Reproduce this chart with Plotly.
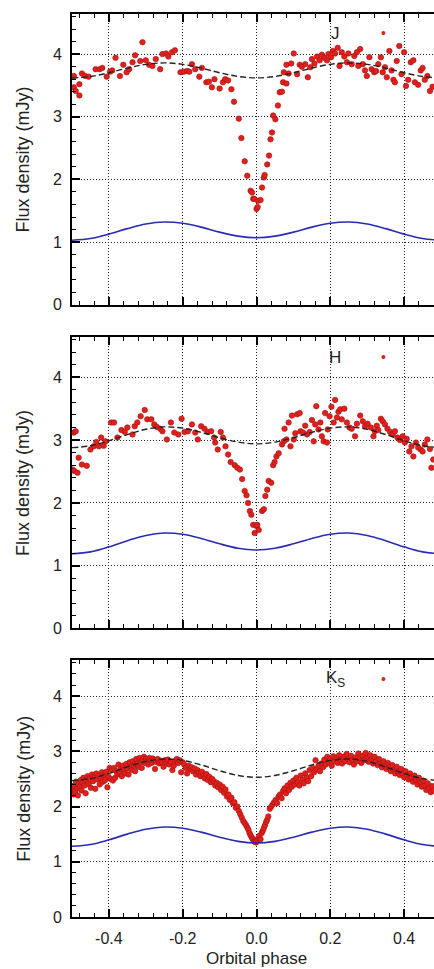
import plotly.graph_objects as go

# ---------------- data ----------------
x_tickvals = [-0.4, -0.2, 0.0, 0.2, 0.4]
x_ticktext = ["-0.4", "-0.2", "0.0", "0.2", "0.4"]
y_tickvals = [0, 1, 2, 3, 4]
band_labels = ["J", "H", "K<sub>S</sub>"]

j_phase = [-0.495, -0.495, -0.49, -0.48, -0.48, -0.473, -0.464, -0.455, -0.436, -0.425,
           -0.418, -0.406, -0.397, -0.391, -0.382, -0.37, -0.361, -0.352, -0.345, -0.336,
           -0.329, -0.315, -0.309, -0.3, -0.291, -0.282, -0.273, -0.261, -0.255, -0.245,
           -0.239, -0.229, -0.221, -0.206, -0.197, -0.188, -0.182, -0.175, -0.166, -0.155,
           -0.148, -0.136, -0.129, -0.121, -0.114, -0.1, -0.091, -0.085, -0.077, -0.068,
           -0.061, -0.048, -0.041, -0.032, -0.025, -0.016, -0.012, -0.009, -0.006, 0.0,
           0.003, 0.004, 0.011, 0.015, 0.02, 0.022, 0.029, 0.034, 0.038, 0.042,
           0.045, 0.051, 0.058, 0.063, 0.069, 0.072, 0.074, 0.081, 0.081, 0.087,
           0.094, 0.101, 0.11, 0.117, 0.123, 0.132, 0.139, 0.146, 0.15, 0.157,
           0.164, 0.171, 0.177, 0.184, 0.191, 0.195, 0.202, 0.207, 0.213, 0.22,
           0.225, 0.231, 0.238, 0.245, 0.249, 0.258, 0.265, 0.272, 0.276, 0.281,
           0.288, 0.294, 0.299, 0.306, 0.312, 0.319, 0.324, 0.33, 0.337, 0.342,
           0.348, 0.353, 0.36, 0.366, 0.371, 0.375, 0.38, 0.387, 0.393, 0.4,
           0.405, 0.411, 0.418, 0.425, 0.429, 0.438, 0.445, 0.45, 0.456, 0.463,
           0.47, 0.477]
j_flux = [3.65, 3.47, 3.41, 3.34, 3.52, 3.69, 3.65, 3.64, 3.76, 3.76,
          3.78, 3.64, 3.72, 3.74, 3.94, 3.65, 3.83, 3.71, 3.76, 3.87,
          3.98, 3.89, 4.19, 3.90, 3.83, 3.81, 3.92, 3.76, 4.00, 4.01,
          3.96, 4.03, 4.06, 3.71, 3.72, 3.73, 3.72, 3.84, 3.76, 3.64,
          3.78, 3.55, 3.56, 3.47, 3.60, 3.45, 3.55, 3.60, 3.58, 3.44,
          3.24, 2.97, 2.66, 2.29, 2.06, 1.82, 1.79, 1.69, 1.69, 1.53,
          1.56, 1.66, 1.67, 1.87, 2.03, 2.07, 2.24, 2.38, 2.64, 2.75,
          3.02, 2.96, 3.18, 3.39, 3.40, 3.55, 3.71, 3.53, 3.83, 3.69,
          3.85, 4.01, 3.68, 3.83, 3.80, 3.84, 3.63, 3.79, 3.92, 3.85,
          3.96, 3.90, 3.99, 3.94, 3.90, 4.00, 3.95, 4.05, 4.01, 4.10,
          3.81, 4.03, 3.96, 3.87, 4.01, 3.84, 3.97, 4.03, 3.81, 4.08,
          3.84, 3.74, 3.65, 3.95, 3.76, 3.71, 3.73, 3.84, 3.95, 3.71,
          3.79, 3.63, 4.05, 3.74, 3.59, 3.55, 3.89, 4.13, 3.68, 4.03,
          3.49, 3.59, 3.87, 3.90, 3.55, 3.51, 3.74, 3.78, 3.59, 3.65,
          3.41, 3.48]

h_phase = [-0.495, -0.49, -0.499, -0.494, -0.485, -0.482, -0.473, -0.46, -0.45, -0.441,
           -0.434, -0.427, -0.421, -0.414, -0.409, -0.394, -0.386, -0.377, -0.366, -0.357,
           -0.35, -0.336, -0.33, -0.323, -0.314, -0.303, -0.296, -0.285, -0.277, -0.27,
           -0.261, -0.255, -0.243, -0.232, -0.223, -0.212, -0.203, -0.195, -0.186, -0.175,
           -0.166, -0.159, -0.15, -0.141, -0.132, -0.123, -0.115, -0.112, -0.105, -0.097,
           -0.091, -0.084, -0.077, -0.07, -0.059, -0.052, -0.045, -0.039, -0.032, -0.027,
           -0.023, -0.018, -0.014, -0.009, -0.005, 0.0, 0.002, 0.006, 0.015, 0.02,
           0.024, 0.029, 0.033, 0.04, 0.045, 0.049, 0.054, 0.06, 0.069, 0.074,
           0.076, 0.081, 0.087, 0.092, 0.096, 0.101, 0.105, 0.11, 0.117, 0.119,
           0.126, 0.132, 0.137, 0.144, 0.15, 0.155, 0.159, 0.162, 0.168, 0.173,
           0.177, 0.182, 0.186, 0.191, 0.193, 0.198, 0.203, 0.209, 0.213, 0.218,
           0.222, 0.227, 0.231, 0.238, 0.245, 0.252, 0.258, 0.267, 0.272, 0.281,
           0.288, 0.294, 0.301, 0.31, 0.317, 0.321, 0.326, 0.33, 0.337, 0.342,
           0.348, 0.355, 0.362, 0.369, 0.375, 0.382, 0.389, 0.396, 0.402, 0.407,
           0.414, 0.42, 0.425, 0.432, 0.438, 0.445, 0.45, 0.456, 0.463, 0.47,
           0.474, 0.479]
h_flux = [3.12, 3.14, 2.53, 2.51, 2.48, 2.72, 2.61, 2.59, 2.85, 2.90,
          2.97, 2.90, 3.04, 2.91, 2.98, 3.28, 3.28, 3.04, 3.16, 3.13,
          3.20, 3.09, 3.22, 3.28, 3.38, 3.48, 3.33, 3.33, 3.25, 3.21,
          3.18, 3.14, 3.01, 3.28, 3.12, 3.09, 3.34, 3.13, 3.14, 3.25,
          3.12, 3.01, 3.22, 3.18, 3.13, 3.14, 3.04, 2.96, 2.85, 3.13,
          3.04, 2.90, 2.77, 2.65, 2.60, 2.56, 2.53, 2.38, 2.19, 2.12,
          2.00, 1.87, 1.81, 1.65, 1.52, 1.63, 1.65, 1.57, 1.87, 1.90,
          2.11, 2.21, 2.35, 2.32, 2.60, 2.65, 2.74, 2.79, 2.93, 2.98,
          3.18, 3.01, 3.28, 2.90, 3.39, 3.01, 3.11, 3.41, 3.43, 3.14,
          3.12, 3.23, 3.09, 3.13, 3.32, 2.98, 3.25, 3.54, 3.17, 3.28,
          3.06, 2.98, 3.43, 2.96, 3.17, 3.38, 3.53, 3.28, 3.64, 3.36,
          3.45, 3.49, 3.33, 3.50, 3.28, 3.20, 3.18, 3.06, 3.26, 3.39,
          3.30, 3.22, 3.26, 3.20, 3.06, 3.14, 3.23, 3.16, 3.34, 3.30,
          3.25, 3.18, 3.13, 3.09, 3.14, 3.04, 3.00, 3.06, 2.96, 3.02,
          2.82, 2.90, 2.74, 2.96, 2.88, 2.85, 2.82, 2.93, 3.01, 2.86,
          2.56, 2.69]

k_phase = [-0.498, -0.496, -0.494, -0.491, -0.489, -0.486, -0.484, -0.481, -0.479, -0.476,
           -0.474, -0.471, -0.469, -0.466, -0.463, -0.461, -0.458, -0.455, -0.452, -0.449,
           -0.446, -0.443, -0.440, -0.437, -0.434, -0.431, -0.428, -0.425, -0.422, -0.419,
           -0.416, -0.413, -0.410, -0.407, -0.404, -0.401, -0.398, -0.395, -0.392, -0.389,
           -0.386, -0.383, -0.380, -0.377, -0.374, -0.371, -0.368, -0.365, -0.362, -0.359,
           -0.356, -0.353, -0.350, -0.347, -0.344, -0.341, -0.338, -0.335, -0.332, -0.329,
           -0.326, -0.323, -0.320, -0.317, -0.314, -0.311, -0.308, -0.305, -0.302, -0.299,
           -0.296, -0.293, -0.290, -0.287, -0.284, -0.281, -0.278, -0.275, -0.272, -0.268,
           -0.264, -0.260, -0.256, -0.252, -0.248, -0.244, -0.240, -0.236, -0.232, -0.228,
           -0.224, -0.220, -0.216, -0.212, -0.208, -0.204, -0.200, -0.196, -0.192, -0.188,
           -0.184, -0.180, -0.176, -0.172, -0.168, -0.164, -0.160, -0.156, -0.152, -0.148,
           -0.144, -0.140, -0.136, -0.132, -0.128, -0.124, -0.120, -0.116, -0.112, -0.108,
           -0.104, -0.100, -0.096, -0.092, -0.088, -0.084, -0.080, -0.076, -0.072, -0.068,
           -0.064, -0.060, -0.056, -0.052, -0.048, -0.044, -0.040, -0.036, -0.032, -0.028,
           -0.025, -0.022, -0.019, -0.016, -0.013, -0.010, -0.007, -0.004, -0.001, 0.002,
           0.005, 0.008, 0.011, 0.014, 0.017, 0.020, 0.023, 0.026, 0.029, 0.032,
           0.036, 0.040, 0.044, 0.048, 0.052, 0.056, 0.060, 0.064, 0.068, 0.072,
           0.076, 0.080, 0.084, 0.088, 0.092, 0.096, 0.100, 0.104, 0.108, 0.112,
           0.116, 0.120, 0.124, 0.128, 0.132, 0.136, 0.140, 0.144, 0.148, 0.152,
           0.156, 0.160, 0.164, 0.168, 0.172, 0.176, 0.180, 0.184, 0.188, 0.192,
           0.196, 0.200, 0.204, 0.208, 0.212, 0.216, 0.220, 0.224, 0.228, 0.232,
           0.236, 0.240, 0.244, 0.248, 0.252, 0.256, 0.260, 0.264, 0.268, 0.272,
           0.276, 0.280, 0.284, 0.288, 0.292, 0.296, 0.300, 0.304, 0.308, 0.312,
           0.316, 0.320, 0.324, 0.328, 0.332, 0.336, 0.340, 0.344, 0.348, 0.352,
           0.356, 0.360, 0.364, 0.368, 0.372, 0.376, 0.380, 0.384, 0.388, 0.392,
           0.396, 0.400, 0.404, 0.408, 0.412, 0.416, 0.420, 0.424, 0.428, 0.432,
           0.436, 0.440, 0.444, 0.448, 0.452, 0.456, 0.460, 0.464, 0.468, 0.472,
           0.476, 0.480]
k_flux = [2.30, 2.22, 2.38, 2.27, 2.45, 2.33, 2.20, 2.41, 2.36, 2.48,
          2.29, 2.43, 2.52, 2.38, 2.24, 2.47, 2.55, 2.41, 2.50, 2.34,
          2.58, 2.46, 2.53, 2.32, 2.60, 2.49, 2.56, 2.40, 2.51, 2.62,
          2.45, 2.57, 2.48, 2.63, 2.35, 2.54, 2.70, 2.50, 2.66, 2.47,
          2.70, 2.52, 2.64, 2.58, 2.76, 2.61, 2.68, 2.55, 2.74, 2.66,
          2.60, 2.77, 2.69, 2.58, 2.80, 2.71, 2.66, 2.82, 2.74, 2.64,
          2.86, 2.78, 2.72, 2.88, 2.80, 2.70, 2.84, 2.90, 2.79, 2.86,
          2.82, 2.76, 2.88, 2.83, 2.79, 2.87, 2.84, 2.68, 2.81, 2.86,
          2.78, 2.83, 2.80, 2.72, 2.84, 2.78, 2.85, 2.76, 2.81, 2.66,
          2.74, 2.82, 2.86, 2.79, 2.84, 2.62, 2.80, 2.76, 2.70, 2.60,
          2.74, 2.68, 2.71, 2.64, 2.69, 2.58, 2.66, 2.61, 2.55, 2.63,
          2.57, 2.51, 2.59, 2.48, 2.54, 2.44, 2.50, 2.46, 2.38, 2.43,
          2.35, 2.40, 2.30, 2.36, 2.25, 2.31, 2.18, 2.22, 2.12, 2.16,
          2.06, 2.08, 1.98, 2.00, 1.92, 1.86, 1.80, 1.74, 1.70, 1.66,
          1.62, 1.58, 1.52, 1.48, 1.44, 1.41, 1.38, 1.36, 1.35, 1.39,
          1.43, 1.47, 1.41, 1.52, 1.56, 1.61, 1.66, 1.72, 1.76, 1.82,
          1.96, 2.00, 2.04, 2.08, 2.12, 2.06, 2.18, 2.22, 2.15, 2.28,
          2.33, 2.24, 2.38, 2.30, 2.43, 2.36, 2.47, 2.40, 2.52, 2.44,
          2.38, 2.56, 2.48, 2.42, 2.60, 2.52, 2.46, 2.66, 2.55, 2.70,
          2.62, 2.84, 2.68, 2.74, 2.64, 2.78, 2.71, 2.85, 2.76, 2.90,
          2.80, 2.86, 2.74, 2.91, 2.82, 2.88, 2.79, 2.93, 2.84, 2.78,
          2.90, 2.82, 2.95, 2.86, 2.80, 2.92, 2.84, 2.76, 2.89, 2.82,
          2.96, 2.86, 2.79, 2.92, 2.84, 2.97, 2.88, 2.81, 2.93, 2.85,
          2.78, 2.90, 2.82, 2.75, 2.86, 2.78, 2.71, 2.82, 2.74, 2.68,
          2.79, 2.71, 2.64, 2.75, 2.67, 2.60, 2.72, 2.63, 2.57, 2.68,
          2.60, 2.53, 2.64, 2.56, 2.49, 2.60, 2.52, 2.45, 2.56, 2.48,
          2.40, 2.52, 2.44, 2.36, 2.47, 2.38, 2.30, 2.42, 2.33, 2.26,
          2.37, 2.29]

model_phase = [-0.5, -0.45, -0.4, -0.35, -0.3, -0.25, -0.2, -0.15, -0.1, -0.05, 0.0,
               0.05, 0.1, 0.15, 0.2, 0.25, 0.3, 0.35, 0.4, 0.45, 0.5]
j_model_total = [3.62, 3.643, 3.703, 3.777, 3.837, 3.86, 3.837, 3.777, 3.703, 3.643, 3.62,
                 3.643, 3.703, 3.777, 3.837, 3.86, 3.837, 3.777, 3.703, 3.643, 3.62]
j_model_star = [1.03, 1.057, 1.127, 1.215, 1.288, 1.32, 1.300, 1.239, 1.159, 1.095, 1.07,
                1.095, 1.159, 1.239, 1.300, 1.32, 1.288, 1.215, 1.127, 1.057, 1.03]
h_model_total = [2.88, 2.91, 2.99, 3.088, 3.172, 3.21, 3.19, 3.124, 3.038, 2.968, 2.94,
                 2.968, 3.038, 3.124, 3.19, 3.21, 3.172, 3.088, 2.99, 2.91, 2.88]
h_model_star = [1.19, 1.22, 1.30, 1.398, 1.482, 1.52, 1.50, 1.434, 1.348, 1.277, 1.25,
                1.277, 1.348, 1.434, 1.50, 1.52, 1.482, 1.398, 1.30, 1.22, 1.19]
k_model_total = [2.47, 2.505, 2.60, 2.718, 2.817, 2.86, 2.835, 2.754, 2.648, 2.563, 2.53,
                 2.563, 2.648, 2.754, 2.835, 2.86, 2.817, 2.718, 2.60, 2.505, 2.47]
k_model_star = [1.28, 1.312, 1.397, 1.501, 1.59, 1.63, 1.608, 1.537, 1.445, 1.37, 1.34,
                1.37, 1.445, 1.537, 1.608, 1.63, 1.59, 1.501, 1.397, 1.312, 1.28]

# ---------------- figure ----------------
FONT = "Liberation Sans, Arial, sans-serif"
RED = "#e0201c"
panels = [
    (j_phase, j_flux, j_model_total, j_model_star, "", [0.678, 1.0], 4.64, 4.33),
    (h_phase, h_flux, h_model_total, h_model_star, "2", [0.3195, 0.6422], 4.64, 4.32),
    (k_phase, k_flux, k_model_total, k_model_star, "3", [0.0, 0.2844], 4.65, 4.31),
]

fig = go.Figure()
annotations = []
layout_axes = {}
for i, (ph, fl, mt, ms, sfx, dom, ytop, leg_y) in enumerate(panels):
    xa, ya = "x" + sfx, "y" + sfx
    fig.add_trace(go.Scatter(x=ph, y=fl, mode="markers", xaxis=xa, yaxis=ya,
                             marker=dict(size=5.5, color=RED,
                                         line=dict(width=0.6, color="#a81010")),
                             showlegend=False, hoverinfo="skip"))
    fig.add_trace(go.Scatter(x=model_phase, y=mt, mode="lines", xaxis=xa, yaxis=ya,
                             line=dict(color="#222222", width=1.4, dash="6px,3px",
                                       shape="spline", smoothing=1.0),
                             showlegend=False, hoverinfo="skip"))
    fig.add_trace(go.Scatter(x=model_phase, y=ms, mode="lines", xaxis=xa, yaxis=ya,
                             line=dict(color="#2a2ab8", width=1.6,
                                       shape="spline", smoothing=1.0),
                             showlegend=False, hoverinfo="skip"))
    last = (i == 2)
    layout_axes["xaxis" + sfx] = dict(
        domain=[0, 1], anchor=ya, range=[-0.5, 0.481],
        tickmode="array", tickvals=x_tickvals, ticktext=x_ticktext,
        showticklabels=last, ticks="inside", ticklen=8, tickwidth=1.5,
        tickcolor="black", showline=True, linecolor="black", linewidth=2,
        mirror="ticks", showgrid=True, gridcolor="#222222", gridwidth=1,
        griddash="1px,2px", zeroline=False, ticklabelstandoff=6,
        tickfont=dict(family=FONT, size=16, color="#222"),
        minor=dict(tickmode="linear", tick0=0, dtick=0.04, ticks="inside",
                   ticklen=4, tickwidth=1.3, tickcolor="black", showgrid=False),
    )
    layout_axes["yaxis" + sfx] = dict(
        domain=dom, anchor=xa, range=[0, ytop],
        tickmode="array", tickvals=y_tickvals,
        ticks="inside", ticklen=8, tickwidth=1.5, tickcolor="black",
        showline=True, linecolor="black", linewidth=2, mirror=False,
        showgrid=True, gridcolor="#222222", gridwidth=1, griddash="1px,2px",
        zeroline=False, ticklabelstandoff=5,
        tickfont=dict(family=FONT, size=16, color="#222"),
        minor=dict(tickmode="linear", tick0=0, dtick=0.2, ticks="inside",
                   ticklen=4, tickwidth=1.3, tickcolor="black", showgrid=False),
    )
    annotations.append(dict(text="Flux density (mJy)", xref="paper", yref=ya + " domain",
                            x=-0.135, y=0.5, xanchor="center", yanchor="middle",
                            textangle=-90, showarrow=False,
                            font=dict(family=FONT, size=18, color="#222")))
    annotations.append(dict(text=band_labels[i], xref=xa, yref=ya, x=0.213, y=leg_y,
                            xanchor="center", yanchor="middle", showarrow=False,
                            font=dict(family=FONT, size=17, color="#222")))
    annotations.append(dict(text="•", xref=xa, yref=ya, x=0.343, y=leg_y,
                            xanchor="center", yanchor="middle", showarrow=False,
                            font=dict(family=FONT, size=14, color=RED)))

annotations.append(dict(text="Orbital phase", xref="x3", yref="paper", x=0.0, y=-0.0465,
                        xanchor="center", yanchor="middle", showarrow=False,
                        font=dict(family=FONT, size=17, color="#222")))

fig.update_layout(
    width=434, height=969,
    margin=dict(l=72, r=0, t=14, b=52),
    paper_bgcolor="white", plot_bgcolor="white",
    annotations=annotations,
    **layout_axes,
)

fig.write_html("out.html",
               config={"displayModeBar": False},
               post_script="document.body.style.margin='0';document.body.style.padding='0';"
                           "document.documentElement.style.overflow='hidden';")
